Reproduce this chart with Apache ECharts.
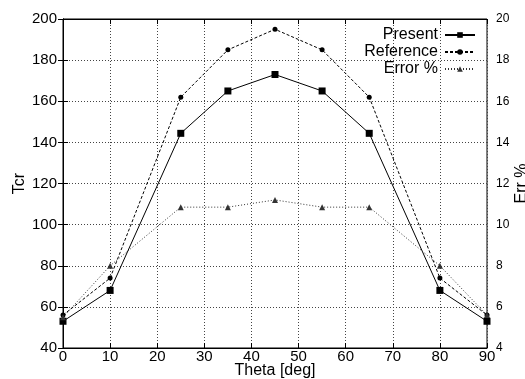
<!DOCTYPE html>
<html><head><meta charset="utf-8">
<script src="https://cdn.jsdelivr.net/npm/echarts@6/dist/echarts.min.js"></script>
<style>html,body{margin:0;padding:0;background:#fff}#c{width:525px;height:379px}</style>
</head><body><div id="c"></div>
<script>
const theta = [0, 10, 25, 35, 45, 55, 65, 80, 90];
const present = [53, 68, 144.4, 165, 173, 165, 144.4, 68, 53];
const reference = [56, 74, 162, 185, 195, 185, 162, 74, 56];
const errorPct = [5.5, 8, 10.85, 10.85, 11.2, 10.85, 10.85, 8, 5.6];
const xTicks = {min: 0, max: 90, interval: 10};
const yTicks = {min: 40, max: 200, interval: 20};
const y2Ticks = {min: 4, max: 20, interval: 2};

const font = 'Liberation Sans, Arial, sans-serif';
const chart = echarts.init(document.getElementById('c'));
const pair = arr => theta.map((t, i) => [t, arr[i]]);
chart.setOption({
  animation: false,
  backgroundColor: '#fff',
  grid: {left: 63, right: 38, top: 19, bottom: 31, show: true, borderColor: '#000', borderWidth: 1,
         containLabel: false, outerBoundsMode: 'none'},
  legend: {
    right: 44, top: 22, orient: 'vertical', align: 'right', itemGap: 1,
    itemWidth: 30, itemHeight: 7,
    textStyle: {fontFamily: font, fontSize: 16, color: '#000', padding: [0, 2, 0, 0]},
    data: ['Present', 'Reference', 'Error %']
  },
  xAxis: [{
    type: 'value', min: xTicks.min, max: xTicks.max, interval: xTicks.interval,
    name: 'Theta [deg]', nameLocation: 'middle', nameGap: 15, nameMoveOverlap: false,
    nameTextStyle: {fontFamily: font, fontSize: 16, color: '#000'},
    axisLine: {lineStyle: {color: '#000'}},
    axisTick: {inside: true, length: 5, lineStyle: {color: '#000'}},
    axisLabel: {fontFamily: font, fontSize: 15, color: '#000', margin: 1},
    splitLine: {show: true, lineStyle: {type: [1, 2], color: '#444'}}
  }, {
    type: 'value', position: 'top', min: xTicks.min, max: xTicks.max, interval: xTicks.interval,
    axisLine: {lineStyle: {color: '#000'}},
    axisTick: {inside: true, length: 5, lineStyle: {color: '#000'}},
    axisLabel: {show: false}, splitLine: {show: false}
  }],
  yAxis: [{
    type: 'value', min: yTicks.min, max: yTicks.max, interval: yTicks.interval,
    name: 'Tcr', nameLocation: 'middle', nameGap: 35, nameMoveOverlap: false,
    nameTextStyle: {fontFamily: font, fontSize: 16, color: '#000'},
    axisLine: {lineStyle: {color: '#000'}},
    axisTick: {inside: true, length: 5, lineStyle: {color: '#000'}},
    axisLabel: {fontFamily: font, fontSize: 15, color: '#000', margin: 6},
    splitLine: {show: true, lineStyle: {type: [1, 2], color: '#444'}}
  }, {
    type: 'value', position: 'right', min: y2Ticks.min, max: y2Ticks.max, interval: y2Ticks.interval,
    name: 'Err %', nameLocation: 'middle', nameGap: 27, nameRotate: 90, nameMoveOverlap: false,
    nameTextStyle: {fontFamily: font, fontSize: 16, color: '#000'},
    axisLine: {lineStyle: {color: '#000'}},
    axisTick: {inside: true, length: 5, lineStyle: {color: '#000'}},
    axisLabel: {fontFamily: font, fontSize: 12, color: '#000', margin: 9},
    splitLine: {show: false}
  }],
  series: [{
    name: 'Present', type: 'line', data: pair(present),
    symbol: 'rect', symbolSize: 7,
    lineStyle: {color: '#000', width: 1}, itemStyle: {color: '#000'}
  }, {
    name: 'Reference', type: 'line', data: pair(reference),
    symbol: 'circle', symbolSize: 5,
    lineStyle: {color: '#000', width: 1, type: [3, 2]}, itemStyle: {color: '#000'}
  }, {
    name: 'Error %', type: 'line', yAxisIndex: 1, data: pair(errorPct),
    symbol: 'triangle', symbolSize: 6,
    lineStyle: {color: '#333', width: 1, type: [1, 2]}, itemStyle: {color: '#333'}
  }]
});
</script></body></html>
